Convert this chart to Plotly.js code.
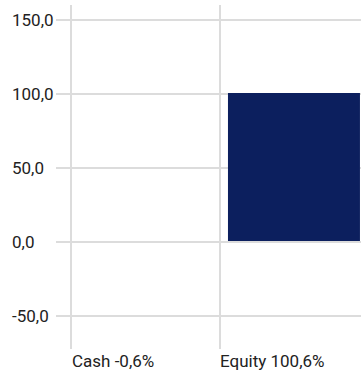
<!DOCTYPE html>
<html>
<head>
<meta charset="utf-8">
<script src="https://cdn.plot.ly/plotly-3.0.1.min.js"></script>
<style>
  html, body { margin: 0; padding: 0; background: #ffffff; overflow: hidden; }
  #chart { width: 361px; height: 375px; }
</style>
</head>
<body>
<div id="chart"></div>
<script>
// ---- data ----
const categories = ["Cash", "Equity"];
const values = [-0.6, 100.6];
const yTickValues = [-50, 0, 50, 100, 150];
const yTickLabels = ["-50,0", "0,0", "50,0", "100,0", "150,0"];

function fmtPct(v) {
  return v.toFixed(1).replace(".", ",") + "%";
}
const xTickText = categories.map((c, i) => c + " " + fmtPct(values[i]));
const positions = categories.map((c, i) => i);
const boundaries = categories.map((c, i) => i - 0.5);

const FONT = "Roboto, 'Liberation Sans', sans-serif";
const GRID = "#dcdcdc";
const TEXT = "#222222";

const traces = [
  {
    type: "bar",
    x: positions,
    y: values,
    width: 0.892,
    marker: { color: "#0c1f5e", line: { width: 0 } },
    hoverinfo: "skip",
    showlegend: false
  },
  {
    type: "scatter",
    x: [],
    y: [],
    yaxis: "y2",
    showlegend: false,
    hoverinfo: "skip"
  }
];

const yRange = [-72.3, 160.1];

const layout = {
  width: 361,
  height: 375,
  margin: { l: 8, r: 0, t: 5, b: 26, pad: 0 },
  paper_bgcolor: "#ffffff",
  plot_bgcolor: "#ffffff",
  showlegend: false,
  font: { family: FONT, size: 17, color: TEXT },
  xaxis: {
    type: "linear",
    domain: [64 / 353, 1],
    range: [-0.5, 1.453],
    tickmode: "array",
    tickvals: boundaries,
    ticktext: xTickText,
    ticklabelposition: "outside right",
    showgrid: true,
    gridcolor: GRID,
    gridwidth: 2,
    zeroline: false,
    showline: false,
    ticks: "",
    fixedrange: true,
    tickfont: { family: FONT, size: 17, color: TEXT }
  },
  yaxis: {
    range: yRange,
    tickmode: "array",
    tickvals: yTickValues,
    ticktext: yTickLabels,
    showticklabels: false,
    ticks: "outside",
    ticklen: 14,
    tickwidth: 2,
    tickcolor: GRID,
    showgrid: true,
    gridcolor: GRID,
    gridwidth: 2,
    zeroline: false,
    showline: true,
    linecolor: GRID,
    linewidth: 2,
    fixedrange: true
  },
  yaxis2: {
    overlaying: "y",
    anchor: "free",
    position: 0,
    side: "left",
    range: yRange,
    tickmode: "array",
    tickvals: yTickValues,
    ticktext: yTickLabels,
    ticklabelposition: "inside",
    ticks: "",
    showgrid: false,
    zeroline: false,
    showline: false,
    fixedrange: true,
    tickfont: { family: FONT, size: 17, color: TEXT }
  },
  shapes: [
    {
      type: "line", xref: "x domain", yref: "y",
      x0: 0, x1: 1, y0: 0, y1: 0,
      line: { color: GRID, width: 2 },
      layer: "above"
    }
  ]
};

Plotly.newPlot("chart", traces, layout, { displayModeBar: false, staticPlot: true });
</script>
</body>
</html>
